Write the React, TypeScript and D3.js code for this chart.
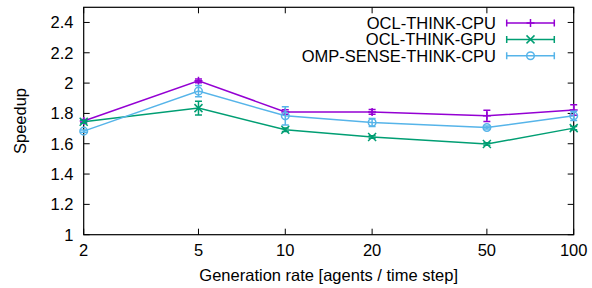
import React from 'react';
import * as d3 from 'd3';

const rates = [2, 5, 10, 20, 50, 100];
const yTicks = [1, 1.2, 1.4, 1.6, 1.8, 2, 2.2, 2.4];

const seriesNames = ['OCL-THINK-CPU', 'OCL-THINK-GPU', 'OMP-SENSE-THINK-CPU'];
const seriesColors = ['#9400d3', '#009e73', '#56b4e9'];
const seriesMarkers = ['plus', 'cross', 'circle'];

const oclCpu = [1.75, 2.015, 1.81, 1.81, 1.784, 1.823];
const oclCpuErr = [0.01, 0.012, 0.015, 0.016, 0.037, 0.035];
const oclGpu = [1.745, 1.835, 1.692, 1.644, 1.598, 1.703];
const oclGpuErr = [0.01, 0.045, 0.012, 0.008, 0.008, 0.01];
const ompCpu = [1.683, 1.947, 1.784, 1.74, 1.707, 1.784];
const ompCpuErr = [0.008, 0.037, 0.06, 0.026, 0.01, 0.03];

const seriesValues = [oclCpu, oclGpu, ompCpu];
const seriesErrors = [oclCpuErr, oclGpuErr, ompCpuErr];

const W = 592, H = 288;
const margin = { left: 83.7, right: 592 - 573.7, top: 7.3, bottom: 288 - 234.7 };
const font = '"Liberation Sans", Arial, sans-serif';
const fs = 16.5;

const Marker = ({ kind, x, y, color }) => {
  const s = 4;
  if (kind === 'plus') {
    return <path d={`M${x - s},${y}H${x + s}M${x},${y - s}V${y + s}`} stroke={color} strokeWidth={1.5} />;
  }
  if (kind === 'cross') {
    return <path d={`M${x - s},${y - s}L${x + s},${y + s}M${x - s},${y + s}L${x + s},${y - s}`} stroke={color} strokeWidth={1.5} />;
  }
  return <circle cx={x} cy={y} r={3.8} fill="none" stroke={color} strokeWidth={1.5} />;
};

export default function App() {
  const x = d3.scaleLog().domain([2, 100]).range([margin.left, W - margin.right]);
  const y = d3.scaleLinear().domain([1, 2.5]).range([H - margin.bottom, margin.top]);
  const line = d3.line<number>().x((_, i) => x(rates[i])).y(d => y(d));
  const tick = 6;
  const cap = 3.5;

  return (
    <svg width={W} height={H} style={{ position: 'absolute', left: 0, top: 0 }} fontFamily={font}>
      <rect width={W} height={H} fill="#fff" />
      {/* y ticks */}
      {yTicks.map(t => (
        <g key={t}>
          <line x1={x(2)} x2={x(2) + tick} y1={y(t)} y2={y(t)} stroke="#000" />
          <line x1={x(100)} x2={x(100) - tick} y1={y(t)} y2={y(t)} stroke="#000" />
          <text x={73.5} y={y(t)} dy="0.36em" textAnchor="end" fontSize={fs}>{t}</text>
        </g>
      ))}
      {/* x ticks */}
      {rates.map(r => (
        <g key={r}>
          <line x1={x(r)} x2={x(r)} y1={y(1)} y2={y(1) - tick} stroke="#000" />
          <line x1={x(r)} x2={x(r)} y1={y(2.5)} y2={y(2.5) + tick} stroke="#000" />
          <text x={x(r)} y={256} textAnchor="middle" fontSize={fs}>{r}</text>
        </g>
      ))}
      <rect x={x(2)} y={y(2.5)} width={x(100) - x(2)} height={y(1) - y(2.5)} fill="none" stroke="#000" strokeWidth={1.2} />
      <text x={(x(2) + x(100)) / 2} y={281} textAnchor="middle" fontSize={fs}>Generation rate [agents / time step]</text>
      <text transform={`translate(26,${(y(1) + y(2.5)) / 2}) rotate(-90)`} textAnchor="middle" fontSize={fs}>Speedup</text>

      {seriesValues.map((vals, si) => {
        const c = seriesColors[si];
        return (
          <g key={si}>
            <path d={line(vals) || ''} fill="none" stroke={c} strokeWidth={1.5} />
            {vals.map((v, i) => {
              const px = x(rates[i]);
              const e = seriesErrors[si][i];
              return (
                <g key={i}>
                  <path d={`M${px},${y(v - e)}V${y(v + e)}M${px - cap},${y(v - e)}H${px + cap}M${px - cap},${y(v + e)}H${px + cap}`} stroke={c} strokeWidth={1.5} fill="none" />
                  <Marker kind={seriesMarkers[si]} x={px} y={y(v)} color={c} />
                </g>
              );
            })}
          </g>
        );
      })}

      {/* legend */}
      {seriesNames.map((name, i) => {
        const ly = 23 + i * 16.4;
        const c = seriesColors[i];
        return (
          <g key={name}>
            <text x={496} y={ly} dy="0.36em" textAnchor="end" fontSize={fs}>{name}</text>
            <path d={`M506.7,${ly}H554.3M506.7,${ly - cap}V${ly + cap}M554.3,${ly - cap}V${ly + cap}`} stroke={c} strokeWidth={1.5} fill="none" />
            <Marker kind={seriesMarkers[i]} x={530.5} y={ly} color={c} />
          </g>
        );
      })}
    </svg>
  );
}
